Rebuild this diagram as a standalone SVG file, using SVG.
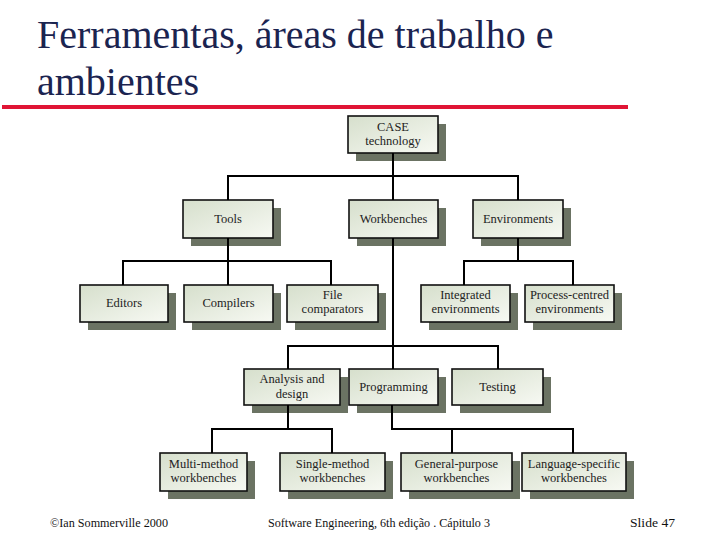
<svg xmlns="http://www.w3.org/2000/svg" width="717" height="538" viewBox="0 0 717 538">
<defs>
<linearGradient id="fill" x1="0" y1="0" x2="1" y2="1">
<stop offset="0" stop-color="#d6dfcc"/>
<stop offset="1" stop-color="#f7f9f3"/>
</linearGradient>
</defs>
<style>
.sh{fill:#6b7363}
.bx{fill:url(#fill);stroke:#111;stroke-width:1.6}
.t{font-family:"Liberation Serif","Times New Roman",serif;font-size:12.5px;fill:#222;text-anchor:middle}
.c{fill:none;stroke:#000;stroke-width:2}
.title{font-family:"Liberation Serif","Times New Roman",serif;font-size:40px;fill:#1b2450}
.ft{font-family:"Liberation Serif","Times New Roman",serif;font-size:12.5px;fill:#111}
</style>
<rect width="717" height="538" fill="#fff"/>
<text class="title" x="37" y="48">Ferramentas, áreas de trabalho e</text>
<text class="title" x="37" y="95">ambientes</text>
<rect x="2" y="105" width="626" height="4" fill="#e01535"/>

<g id="n-case"><rect class="sh" x="356" y="124" width="90" height="37"/><rect class="bx" x="348" y="116" width="90" height="37"/><text class="t" x="393" y="131">CASE</text><text class="t" x="393" y="145">technology</text></g>
<g id="n-tools"><rect class="sh" x="191" y="208" width="90" height="38"/><rect class="bx" x="183" y="200" width="90" height="38"/><text class="t" x="228" y="223">Tools</text></g>
<g id="n-workbenches"><rect class="sh" x="357" y="208" width="89" height="38"/><rect class="bx" x="349" y="200" width="89" height="38"/><text class="t" x="393.5" y="223">Workbenches</text></g>
<g id="n-environments"><rect class="sh" x="481" y="208" width="90" height="38"/><rect class="bx" x="473" y="200" width="90" height="38"/><text class="t" x="518" y="223">Environments</text></g>
<g id="n-editors"><rect class="sh" x="88" y="293" width="88" height="37"/><rect class="bx" x="80" y="285" width="88" height="37"/><text class="t" x="124" y="307">Editors</text></g>
<g id="n-compilers"><rect class="sh" x="192" y="293" width="89" height="37"/><rect class="bx" x="184" y="285" width="89" height="37"/><text class="t" x="228.5" y="307">Compilers</text></g>
<g id="n-file"><rect class="sh" x="295" y="293" width="91" height="37"/><rect class="bx" x="287" y="285" width="91" height="37"/><text class="t" x="332.5" y="299">File</text><text class="t" x="332.5" y="313">comparators</text></g>
<g id="n-integrated"><rect class="sh" x="429" y="293" width="89" height="37"/><rect class="bx" x="421" y="285" width="89" height="37"/><text class="t" x="465.5" y="299">Integrated</text><text class="t" x="465.5" y="313">environments</text></g>
<g id="n-process"><rect class="sh" x="533" y="293" width="89" height="37"/><rect class="bx" x="525" y="285" width="89" height="37"/><text class="t" x="569.5" y="299">Process-centred</text><text class="t" x="569.5" y="313">environments</text></g>
<g id="n-analysis"><rect class="sh" x="252" y="377" width="96" height="36"/><rect class="bx" x="244" y="369" width="96" height="36"/><text class="t" x="292" y="383">Analysis and</text><text class="t" x="292" y="398">design</text></g>
<g id="n-programming"><rect class="sh" x="357" y="377" width="89" height="36"/><rect class="bx" x="349" y="369" width="89" height="36"/><text class="t" x="393.5" y="391">Programming</text></g>
<g id="n-testing"><rect class="sh" x="460" y="377" width="91" height="36"/><rect class="bx" x="452" y="369" width="91" height="36"/><text class="t" x="497.5" y="391">Testing</text></g>
<g id="n-multi"><rect class="sh" x="168" y="461" width="87" height="38"/><rect class="bx" x="160" y="453" width="87" height="38"/><text class="t" x="203.5" y="468">Multi-method</text><text class="t" x="203.5" y="482">workbenches</text></g>
<g id="n-single"><rect class="sh" x="288" y="461" width="105" height="38"/><rect class="bx" x="280" y="453" width="105" height="38"/><text class="t" x="332.5" y="468">Single-method</text><text class="t" x="332.5" y="482">workbenches</text></g>
<g id="n-general"><rect class="sh" x="409" y="461" width="111" height="38"/><rect class="bx" x="401" y="453" width="111" height="38"/><text class="t" x="456.5" y="468">General-purpose</text><text class="t" x="456.5" y="482">workbenches</text></g>
<g id="n-language"><rect class="sh" x="530" y="461" width="104" height="38"/><rect class="bx" x="522" y="453" width="104" height="38"/><text class="t" x="574" y="468">Language-specific</text><text class="t" x="574" y="482">workbenches</text></g>

<g id="connectors">
<path class="c" d="M393 153V176M228 200V176H518V200M393 176V200"/>
<path class="c" d="M228 238V261M123 285V261H331V285M228 261V285"/>
<path class="c" d="M518 238V261M464 285V261H573V285"/>
<path class="c" d="M393 238V346M288 369V346H498V369M393 346V369"/>
<path class="c" d="M288 405V429M212 453V429H332V453"/>
<path class="c" d="M392 405V429H573V453M452 429V453"/>
</g>

<text class="ft" x="50" y="527" textLength="118" lengthAdjust="spacingAndGlyphs">©Ian Sommerville 2000</text>
<text class="ft" x="268" y="527" textLength="222" lengthAdjust="spacingAndGlyphs">Software Engineering, 6th edição . Cápitulo 3</text>
<text class="ft" x="630" y="527" textLength="45" lengthAdjust="spacingAndGlyphs">Slide  47</text>
</svg>
